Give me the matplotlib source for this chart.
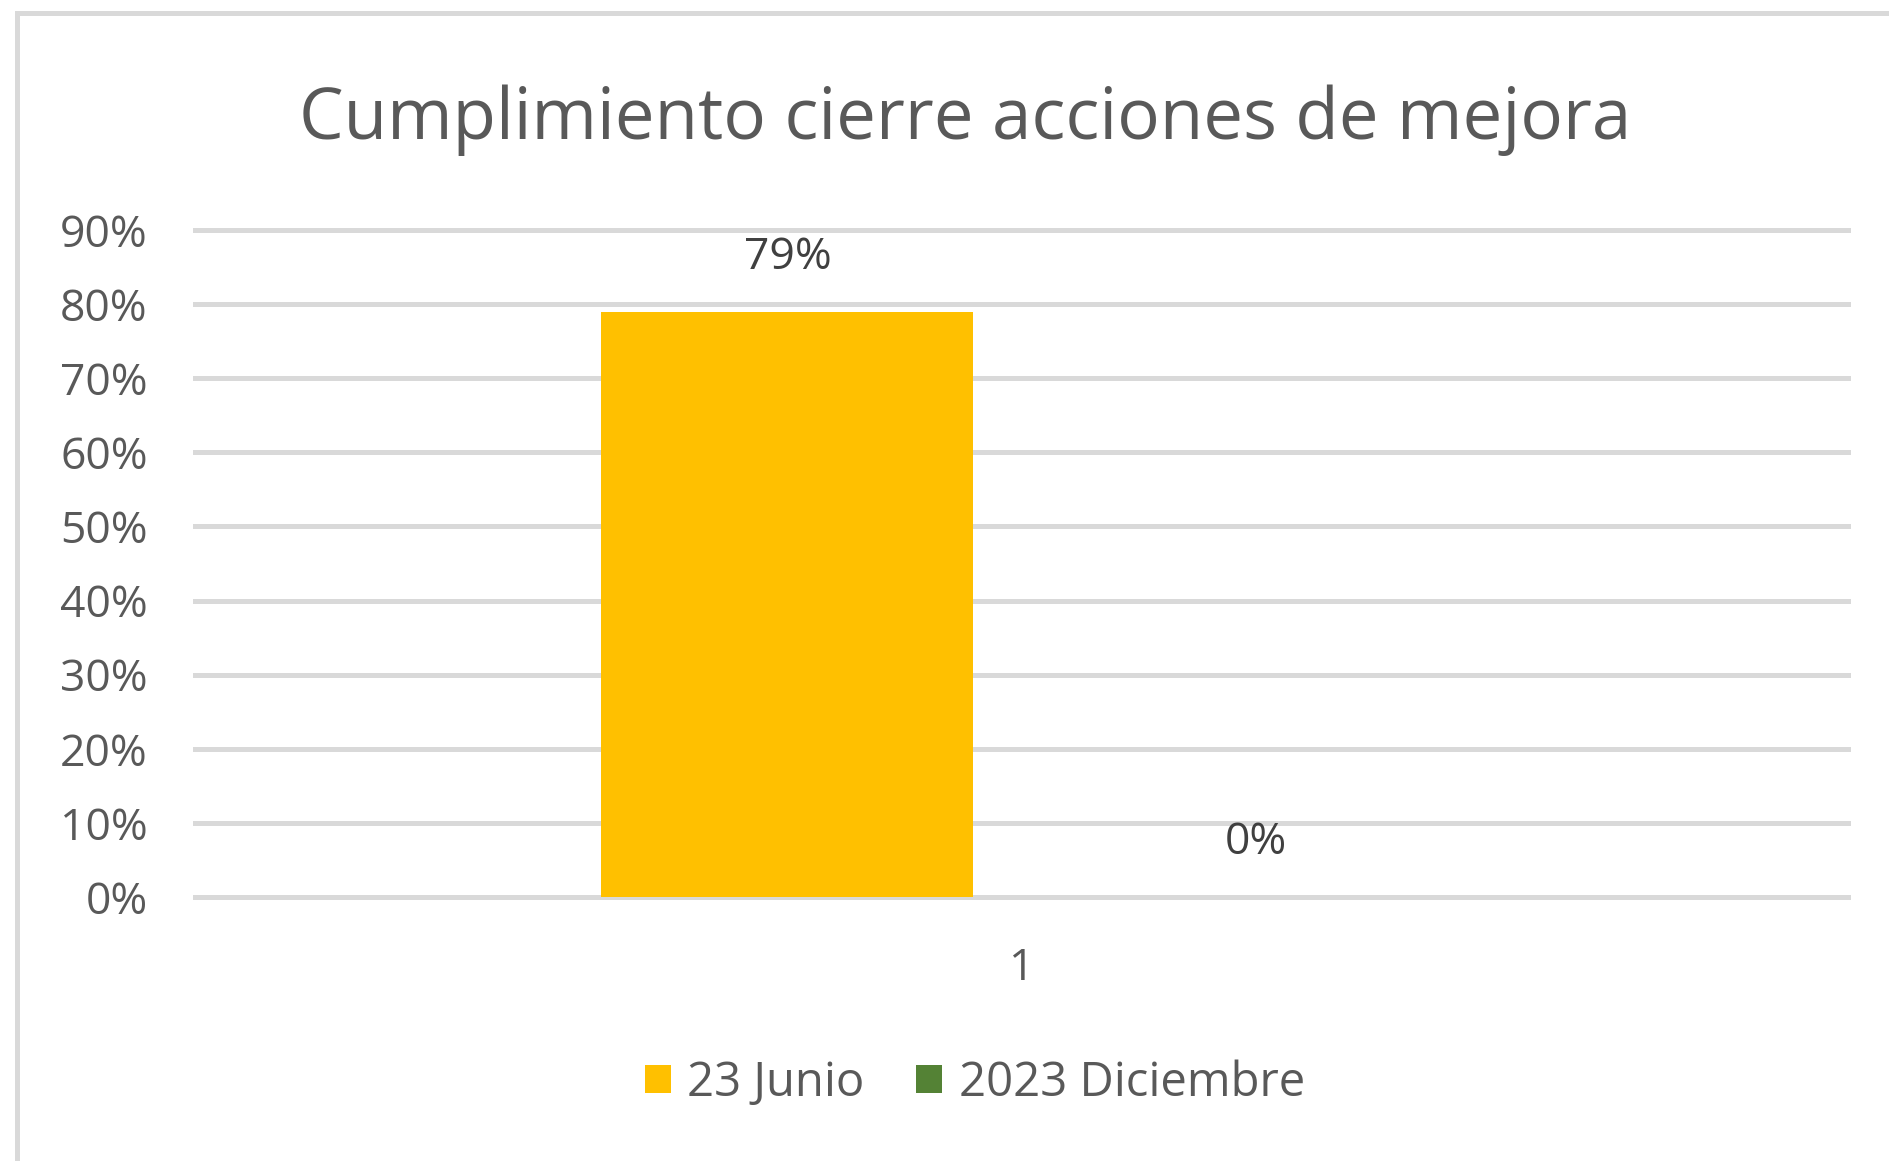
import matplotlib.pyplot as plt
from matplotlib.patches import Rectangle
from matplotlib.ticker import PercentFormatter
import numpy as np

categories = ["1"]
series_names = ["23 Junio", "2023 Diciembre"]
values = [[0.79], [0.0]]
colors = ["#FFC000", "#548235"]
title = "Cumplimiento cierre acciones de mejora"

plt.rcParams['font.family'] = ['Open Sans', 'DejaVu Sans']
text_color = "#595959"
grid_color = "#D9D9D9"

fig = plt.figure(figsize=(18.9, 11.61), dpi=100)
ax = fig.add_axes([195 / 1890, 1 - 897 / 1161, (1848 - 195) / 1890, (897 - 230) / 1161])

# outer chart frame (cut off at right and bottom like the source)
fig.patches.append(Rectangle((16.5 / 1890, -0.05), 1.2, 1 - 12.5 / 1161 + 0.05,
                             transform=fig.transFigure, fill=False,
                             edgecolor=grid_color, linewidth=3.6))

x = np.arange(len(categories))
width = 0.225
offsets = [-0.1416, 0.1416]
for i, name in enumerate(series_names):
    bars = ax.bar(x + offsets[i], values[i], width, color=colors[i], label=name, zorder=3)
    for b, v in zip(bars, values[i]):
        ax.annotate(f"{v:.0%}", (b.get_x() + b.get_width() / 2, v),
                    xytext=(0, 54 * 72 / 100), textcoords="offset points",
                    ha="center", va="center", fontsize=32, color="#404040")

ax.set_xlim(-0.5, 0.5)
ax.set_ylim(0, 0.9)
ax.set_yticks(np.arange(0, 0.91, 0.1))
ax.yaxis.set_major_formatter(PercentFormatter(1.0, decimals=0))
ax.set_xticks(x)
ax.set_xticklabels(categories)
ax.tick_params(axis="y", length=0, pad=34, labelsize=32, labelcolor=text_color)
ax.tick_params(axis="x", length=0, pad=36, labelsize=32, labelcolor=text_color)
ax.grid(axis="y", color=grid_color, linewidth=3.6, zorder=0)
for gl in ax.get_ygridlines():
    gl.set_clip_on(False)
for s in ax.spines.values():
    s.set_visible(False)

fig.text(801 / 1568, 1 - 120 / 1161, title, ha="center", va="center",
         fontsize=51, color=text_color)

fig.legend(loc="center", bbox_to_anchor=(975 / 1890, 1 - 1083 / 1161), ncol=2,
           frameon=False, fontsize=34, labelcolor=text_color,
           handlelength=0.55, handleheight=0.55, handletextpad=0.35, columnspacing=1.1)

fig.savefig("out.png", dpi=100)
